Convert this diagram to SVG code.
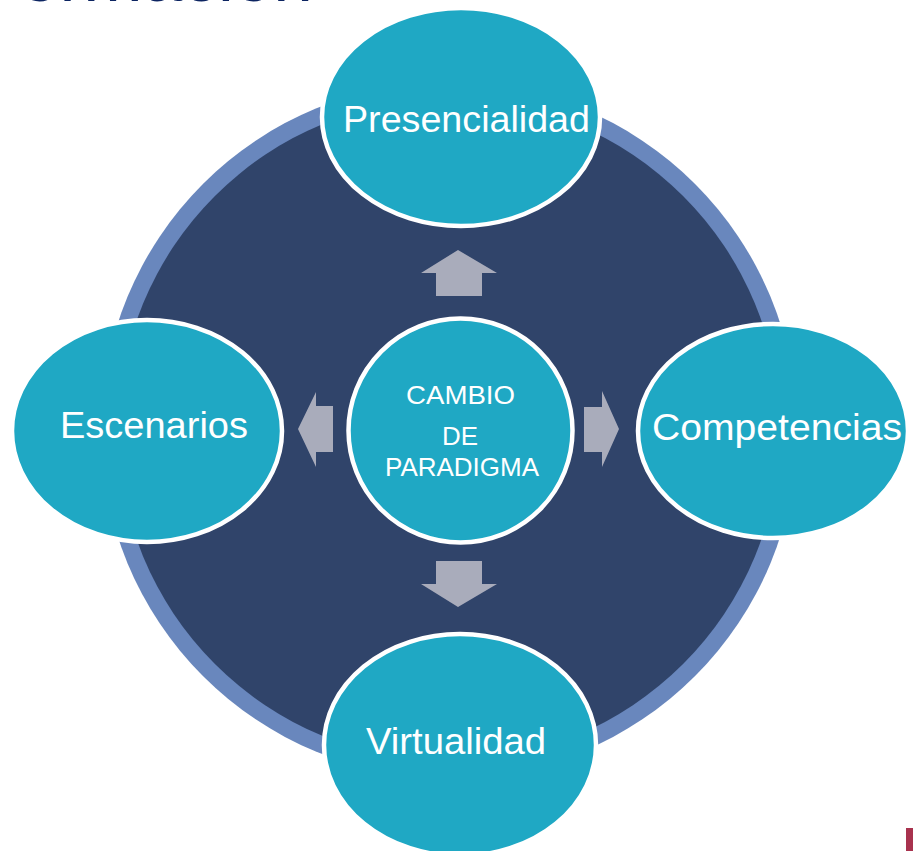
<svg xmlns="http://www.w3.org/2000/svg" width="913" height="851" viewBox="0 0 913 851">
<style>
.node{fill:#1fa8c4;stroke:#ffffff;stroke-width:4.5}
.lbl{font-family:"Liberation Sans",Arial,sans-serif;fill:#ffffff;font-size:36px}
.ctr{font-family:"Liberation Sans",Arial,sans-serif;fill:#ffffff;font-size:26px}
.arr{fill:#a9acbb}
</style>
<rect width="913" height="851" fill="#ffffff"/>
<text x="20" y="1" font-family="'Liberation Sans',Arial,sans-serif" font-size="70" fill="#0c2461" textLength="293" lengthAdjust="spacingAndGlyphs">ormación</text>
<g id="background">
<circle cx="449" cy="430" r="348" fill="#6987bd"/>
<circle cx="449" cy="430" r="331" fill="#30446a"/>
</g>
<g id="connectors">
<polygon class="arr" points="458,250 497,273 482,273 482,296 436,296 436,273 421,273"/>
<polygon class="arr" points="458,607 497,584 482,584 482,561 436,561 436,584 421,584"/>
<polygon class="arr" points="298,429 316,392 316,406 333,406 333,452 316,452 316,467"/>
<polygon class="arr" points="619,429 602,391 602,407 584,407 584,452 602,452 602,467"/>
</g>
<g id="presencialidad">
<ellipse class="node" cx="461" cy="117" rx="139" ry="109"/>
<text class="lbl" x="343" y="132" textLength="247" lengthAdjust="spacingAndGlyphs">Presencialidad</text>
</g>
<g id="escenarios">
<ellipse class="node" cx="147" cy="431" rx="135" ry="111"/>
<text class="lbl" x="60" y="438" textLength="188" lengthAdjust="spacingAndGlyphs">Escenarios</text>
</g>
<g id="competencias">
<ellipse class="node" cx="773" cy="431" rx="135" ry="107"/>
<text class="lbl" x="652" y="440" textLength="250" lengthAdjust="spacingAndGlyphs">Competencias</text>
</g>
<g id="virtualidad">
<ellipse class="node" cx="460" cy="745" rx="136" ry="111"/>
<text class="lbl" x="366" y="754" textLength="180" lengthAdjust="spacingAndGlyphs">Virtualidad</text>
</g>
<g id="cambio">
<circle class="node" cx="460.5" cy="430.5" r="112"/>
<text class="ctr" x="406" y="404" textLength="109" lengthAdjust="spacingAndGlyphs">CAMBIO</text>
<text class="ctr" x="442" y="445" textLength="36" lengthAdjust="spacingAndGlyphs">DE</text>
<text class="ctr" x="385" y="476" textLength="154" lengthAdjust="spacingAndGlyphs">PARADIGMA</text>
</g>
<rect x="906" y="828" width="7" height="23" fill="#a8324e"/>
</svg>
